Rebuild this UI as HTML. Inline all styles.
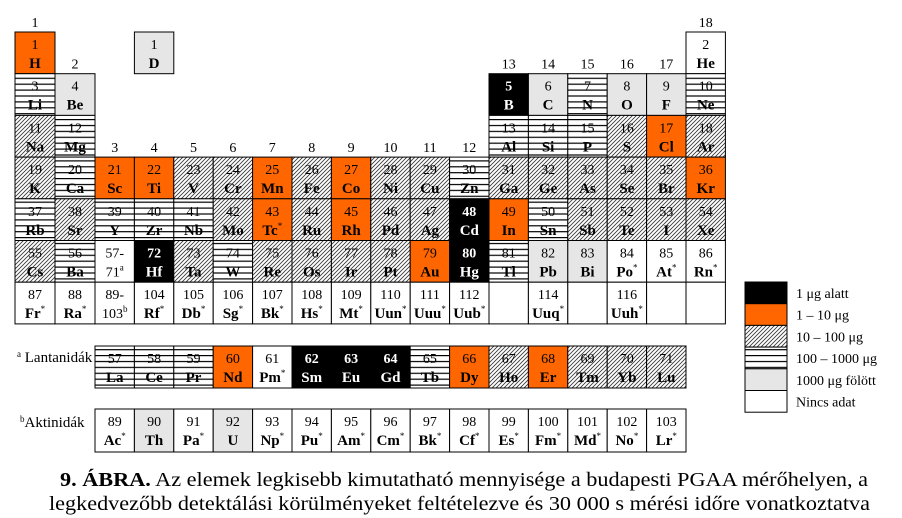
<!DOCTYPE html>
<html><head><meta charset="utf-8"><style>
html,body{margin:0;padding:0;background:#fff;}
svg{display:block;font-family:"Liberation Serif",serif;}
</style></head><body>
<svg id="pt" width="902" height="518" viewBox="0 0 902 518" xmlns="http://www.w3.org/2000/svg">
<defs>
<pattern id="hz" patternUnits="userSpaceOnUse" width="10" height="5.9" y="1">
<rect width="10" height="5.9" fill="#fff"/><line x1="0" y1="0.6" x2="10" y2="0.6" stroke="#000" stroke-width="1.2"/>
</pattern>
<pattern id="dg" patternUnits="userSpaceOnUse" width="4" height="4">
<rect width="4" height="4" fill="#fff"/><path d="M-1,1 l2,-2 M0,4 l4,-4 M3,5 l2,-2" stroke="#333" stroke-width="0.8"/>
</pattern>
</defs>
<g id="cells"></g>
<g id="legend"></g>
<text x="17" y="362" font-size="15"><tspan font-size="9" dy="-5">a</tspan><tspan dy="5"> Lantanidák</tspan></text>
<text x="20" y="427" font-size="15"><tspan font-size="9" dy="-5">b</tspan><tspan dy="5">Aktinidák</tspan></text>
<text x="60" y="486" font-size="20" textLength="808" lengthAdjust="spacingAndGlyphs"><tspan font-weight="bold">9. ÁBRA.</tspan> Az elemek legkisebb kimutatható mennyisége a budapesti PGAA mérőhelyen, a</text>
<text x="49" y="510" font-size="20" textLength="821" lengthAdjust="spacingAndGlyphs">legkedvezőbb detektálási körülményeket feltételezve és 30 000 s mérési időre vonatkoztatva</text>
</svg>
<script>
// category codes: K=<1µg, O=1-10µg, D=10-100µg, H=100-1000µg, G=>1000µg, W=no data
const mainRows = [
 "1,H,1,1,O|2,He,1,18,W|1,D,1,4,G",
 "3,Li,2,1,H|4,Be,2,2,G|5,B,2,13,K|6,C,2,14,G|7,N,2,15,H|8,O,2,16,G|9,F,2,17,G|10,Ne,2,18,H",
 "11,Na,3,1,D|12,Mg,3,2,H|13,Al,3,13,H|14,Si,3,14,H|15,P,3,15,H|16,S,3,16,D|17,Cl,3,17,O|18,Ar,3,18,D",
 "19,K,4,1,D|20,Ca,4,2,H|21,Sc,4,3,O|22,Ti,4,4,O|23,V,4,5,D|24,Cr,4,6,D|25,Mn,4,7,O|26,Fe,4,8,D|27,Co,4,9,O|28,Ni,4,10,D|29,Cu,4,11,D|30,Zn,4,12,H|31,Ga,4,13,D|32,Ge,4,14,D|33,As,4,15,D|34,Se,4,16,D|35,Br,4,17,D|36,Kr,4,18,O",
 "37,Rb,5,1,H|38,Sr,5,2,D|39,Y,5,3,H|40,Zr,5,4,H|41,Nb,5,5,H|42,Mo,5,6,D|43,Tc*,5,7,O|44,Ru,5,8,D|45,Rh,5,9,O|46,Pd,5,10,D|47,Ag,5,11,D|48,Cd,5,12,K|49,In,5,13,O|50,Sn,5,14,H|51,Sb,5,15,D|52,Te,5,16,D|53,I,5,17,D|54,Xe,5,18,D",
 "55,Cs,6,1,D|56,Ba,6,2,H|57-,71a,6,3,W|72,Hf,6,4,K|73,Ta,6,5,D|74,W,6,6,H|75,Re,6,7,D|76,Os,6,8,D|77,Ir,6,9,D|78,Pt,6,10,D|79,Au,6,11,O|80,Hg,6,12,K|81,Tl,6,13,H|82,Pb,6,14,G|83,Bi,6,15,G|84,Po*,6,16,W|85,At*,6,17,W|86,Rn*,6,18,W",
 "87,Fr*,7,1,W|88,Ra*,7,2,W|89-,103b,7,3,W|104,Rf*,7,4,W|105,Db*,7,5,W|106,Sg*,7,6,W|107,Bk*,7,7,W|108,Hs*,7,8,W|109,Mt*,7,9,W|110,Uun*,7,10,W|111,Uuu*,7,11,W|112,Uub*,7,12,W|,,7,13,W|114,Uuq*,7,14,W|,,7,15,W|116,Uuh*,7,16,W|,,7,17,W|,,7,18,W"
];
const lanthNums = [57,58,59,60,61,62,63,64,65,66,67,68,69,70,71];
const lanthSyms = ["La","Ce","Pr","Nd","Pm*","Sm","Eu","Gd","Tb","Dy","Ho","Er","Tm","Yb","Lu"];
const lanthCats = ["H","H","H","O","W","K","K","K","H","O","D","O","D","D","D"];
const actNums = [89,90,91,92,93,94,95,96,97,98,99,100,101,102,103];
const actSyms = ["Ac*","Th","Pa*","U","Np*","Pu*","Am*","Cm*","Bk*","Cf*","Es*","Fm*","Md*","No*","Lr*"];
const actCats = ["W","G","W","G","W","W","W","W","W","W","W","W","W","W","W"];
const groupLabels = ["1","2","3","4","5","6","7","8","9","10","11","12","13","14","15","16","17","18"];
const legendCats = ["K","O","D","H","G","W"];
const legendTexts = ["1 μg alatt","1 – 10 μg","10 – 100 μg","100 – 1000 μg","1000 μg fölött","Nincs adat"];

const NS="http://www.w3.org/2000/svg";
const X0=15, PW=39.4, Y0=32, PH=41.7;
const colX = c => c===1?X0:(c===2?X0+40:X0+80+(c-3)*PW);
const colW = c => c<=2?40:PW;
const rowY = r => Y0+(r-1)*PH;
const fills = {K:"#000",O:"#ff6600",D:"url(#dg)",H:"url(#hz)",G:"#e6e6e6",W:"#fff"};
const cellsG=document.getElementById('cells');
function mk(tag,attrs,parent){const e=document.createElementNS(NS,tag);for(const k in attrs)e.setAttribute(k,attrs[k]);parent.appendChild(e);return e;}
function drawCell(x,y,w,h,num,sym,cat,name){
  const g=mk('g',{},cellsG);
  
  
  mk('rect',{x:x,y:y,width:w,height:h,fill:fills[cat],stroke:"#000","stroke-width":1},g);
  const col = cat==="K"?"#fff":"#000";
  const cx=x+w/2;
  if(num){const t=mk('text',{x:cx,y:y+17,"text-anchor":"middle","font-size":14,fill:col,"font-weight":cat==="K"?"bold":"normal"},g);t.textContent=num;}
  if(sym){
    const t=mk('text',{x:cx,y:y+36,"text-anchor":"middle","font-size":15,fill:col,"font-weight":"bold"},g);
    let s=sym, sup="";
    if(s.endsWith("*")){s=s.slice(0,-1);sup="*";}
    if(sym==="71a"||sym==="103b"){s=sym.slice(0,-1);sup=sym.slice(-1);t.setAttribute("font-weight","normal");t.setAttribute("font-size",14);}
    const a=document.createTextNode(s);t.appendChild(a);
    if(sup){const sp=mk('tspan',{"font-size":9,dy:-6,"font-weight":"normal"},t);sp.textContent=sup;}
  }
}
mainRows.forEach(rs=>rs.split("|").forEach(it=>{
  const [num,sym,r,c,cat]=it.split(",");
  drawCell(colX(+c),rowY(+r),colW(+c),PH,num,sym,cat,"element-"+(sym||"empty").replace(/\W/g,"").toLowerCase());
}));
lanthNums.forEach((n,i)=>drawCell(colX(3+i),346,PW,42,String(n),lanthSyms[i],lanthCats[i],"lanthanide-"+lanthSyms[i].replace("*","").toLowerCase()));
actNums.forEach((n,i)=>drawCell(colX(3+i),409,PW,43,String(n),actSyms[i],actCats[i],"actinide-"+actSyms[i].replace("*","").toLowerCase()));
// group labels
const glPos = {1:[1,1],2:[2,2],13:[13,2],14:[14,2],15:[15,2],16:[16,2],17:[17,2],18:[18,1]};
groupLabels.forEach((l,i)=>{
  const c=i+1; let r = glPos[c]?glPos[c][1]:4;
  const t=mk('text',{x:colX(c)+colW(c)/2,y:rowY(r)-5,"text-anchor":"middle","font-size":14},cellsG);
  
  
  t.textContent=l;
});
// legend
const lg=document.getElementById('legend');
legendCats.forEach((c,i)=>{
  const y=282+i*21.7;
  const r=mk('rect',{x:745,y:y,width:42,height:21.7,fill:fills[c],stroke:"#000","stroke-width":1},lg);
  
  
  const t=mk('text',{x:796,y:y+16,"font-size":14},lg);
  
  
  t.textContent=legendTexts[i];
});
</script>
</body></html>
